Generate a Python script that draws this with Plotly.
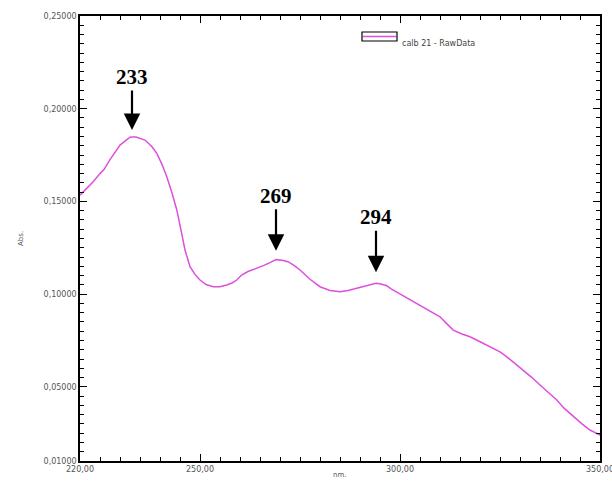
import numpy as np
import plotly.graph_objects as go

# Absorbance spectrum (wavelength in nm, absorbance)
wavelength = [220, 221.5, 223.3, 225, 226, 227.5, 230, 232.5, 233, 234, 236.25, 238,
              239.2, 240.5, 241.7, 243, 244.2, 245.3, 246.25, 247.5, 248.8, 250,
              251.5, 253.3, 255, 256.7, 258, 259.2, 260.4, 262, 264.2, 266, 267.5,
              269, 270.5, 272, 273.5, 275, 277.5, 280, 282.5, 285, 287, 289.2, 291.5,
              294, 295, 296.7, 298, 300, 302.5, 305, 307.5, 310, 311.5, 313.3, 315.5,
              317.5, 320, 322.5, 325, 326.7, 328.5, 330.8, 333, 335, 337, 339.2, 341,
              343.3, 345.5, 347.5, 349, 350]
absorbance = [0.1534, 0.1565, 0.1606, 0.1650, 0.1672, 0.1725, 0.1804, 0.1846, 0.1848,
              0.1847, 0.1831, 0.1795, 0.1759, 0.1700, 0.1633, 0.1545, 0.1454, 0.1340,
              0.1238, 0.1148, 0.1105, 0.1076, 0.1052, 0.1040, 0.1040, 0.1049, 0.1060,
              0.1076, 0.1103, 0.1122, 0.1139, 0.1155, 0.1170, 0.1186, 0.1183, 0.1175,
              0.1155, 0.1130, 0.1080, 0.1040, 0.1020, 0.1013, 0.1020, 0.1031, 0.1045,
              0.1058, 0.1056, 0.1045, 0.1025, 0.1000, 0.0968, 0.0941, 0.0910, 0.0878,
              0.0845, 0.0806, 0.0785, 0.0770, 0.0743, 0.0716, 0.0689, 0.0662, 0.0630,
              0.0591, 0.0550, 0.0510, 0.0470, 0.0429, 0.0385, 0.0339, 0.0300, 0.0267,
              0.0250, 0.0240]

# Labelled absorption maxima
peaks = [233, 269, 294]

x_ticks = [220, 250, 300, 350]
x_tick_text = ["220,00", "250,00", "300,00", "350,00"]
y_ticks = [0.01, 0.05, 0.10, 0.15, 0.20, 0.25]
y_tick_text = ["0,01000", "0,05000", "0,10000", "0,15000", "0,20000", "0,25000"]

x_range = [220, 350]
y_range = [0.01, 0.25]
x_minor_step = 5
y_minor_step = 0.005

series_name = "calb 21 - RawData"
line_color = "#DD4FDD"

W, H = 612, 487
ML, MR, MT, MB = 80, 12, 16, 26
PW, PH = W - ML - MR, H - MT - MB


def px(xp):
    return (xp - ML) / PW


def py(yp):
    return (H - MB - yp) / PH


x_minor = list(np.arange(x_range[0], x_range[1] + 1e-9, x_minor_step))
y_minor = list(np.round(np.arange(y_range[0], y_range[1] + 1e-9, y_minor_step), 4))

fig = go.Figure()
fig.add_trace(go.Scatter(x=wavelength, y=absorbance, mode="lines",
                         line=dict(color=line_color, width=1.5),
                         name=series_name, showlegend=False))
# empty trace so the minor-tick axes get drawn
fig.add_trace(go.Scatter(x=[], y=[], xaxis="x2", yaxis="y2", showlegend=False,
                         hoverinfo="skip"))

tick_font = dict(family="DejaVu Sans", size=8, color="#555555")
axis_common = dict(showline=True, linecolor="black", linewidth=1.5, mirror="ticks",
                   showgrid=False, zeroline=False, tickcolor="black", tickwidth=1,
                   automargin=False)

fig.update_layout(
    xaxis=dict(range=x_range, tickmode="array", tickvals=x_ticks,
               ticktext=x_tick_text, ticks="inside", ticklen=7, tickfont=tick_font,
               ticklabeloverflow="allow", **axis_common),
    yaxis=dict(range=y_range, tickmode="array", tickvals=y_ticks,
               ticktext=y_tick_text, ticks="inside", ticklen=7, tickfont=tick_font,
               ticklabeloverflow="allow", **axis_common),
    xaxis2=dict(range=x_range, overlaying="x", anchor="y2", side="bottom",
                tickmode="array", tickvals=x_minor, ticks="inside", ticklen=4,
                showticklabels=False, **axis_common),
    yaxis2=dict(range=y_range, overlaying="y", anchor="x2", side="left",
                tickmode="array", tickvals=y_minor, ticks="inside", ticklen=4,
                showticklabels=False, **axis_common),
)

# Peak labels with arrows
offsets = {233: (-60, 7), 269: (-64, 9), 294: (-66, 11)}
for p in peaks:
    yv = float(np.interp(p, wavelength, absorbance))
    ay, so = offsets[p]
    fig.add_annotation(x=p, y=yv, xref="x", yref="y", text=f"<b>{p}</b>",
                       showarrow=True, arrowhead=2, arrowsize=1.5, arrowwidth=2.2,
                       arrowcolor="black", ax=0, ay=ay, standoff=so,
                       font=dict(family="Liberation Serif", size=21, color="black"))

# Axis titles
fig.add_annotation(x=px(15), y=py(239), xref="paper", yref="paper", text="Abs.",
                   textangle=-90, showarrow=False,
                   font=dict(family="DejaVu Sans", size=7, color="#555555"))
fig.add_annotation(x=px(339), y=py(481), xref="paper", yref="paper", text="nm.",
                   showarrow=False,
                   font=dict(family="DejaVu Sans", size=7, color="#555555"))

# Legend entry: framed line sample plus series name
fig.add_shape(type="rect", xref="paper", yref="paper", x0=px(362), x1=px(397),
              y0=py(41), y1=py(32), line=dict(color="black", width=1.2),
              fillcolor="white")
fig.add_shape(type="line", xref="paper", yref="paper", x0=px(363), x1=px(396),
              y0=py(36.5), y1=py(36.5), line=dict(color=line_color, width=1.5))
fig.add_annotation(x=px(400), y=py(36.5), xref="paper", yref="paper",
                   text=series_name, showarrow=False, xanchor="left",
                   font=dict(family="DejaVu Sans", size=8, color="#444444"))

fig.update_layout(width=W, height=H, margin=dict(l=ML, r=MR, t=MT, b=MB),
                  plot_bgcolor="white", paper_bgcolor="white")

fig.write_html("out.html")
